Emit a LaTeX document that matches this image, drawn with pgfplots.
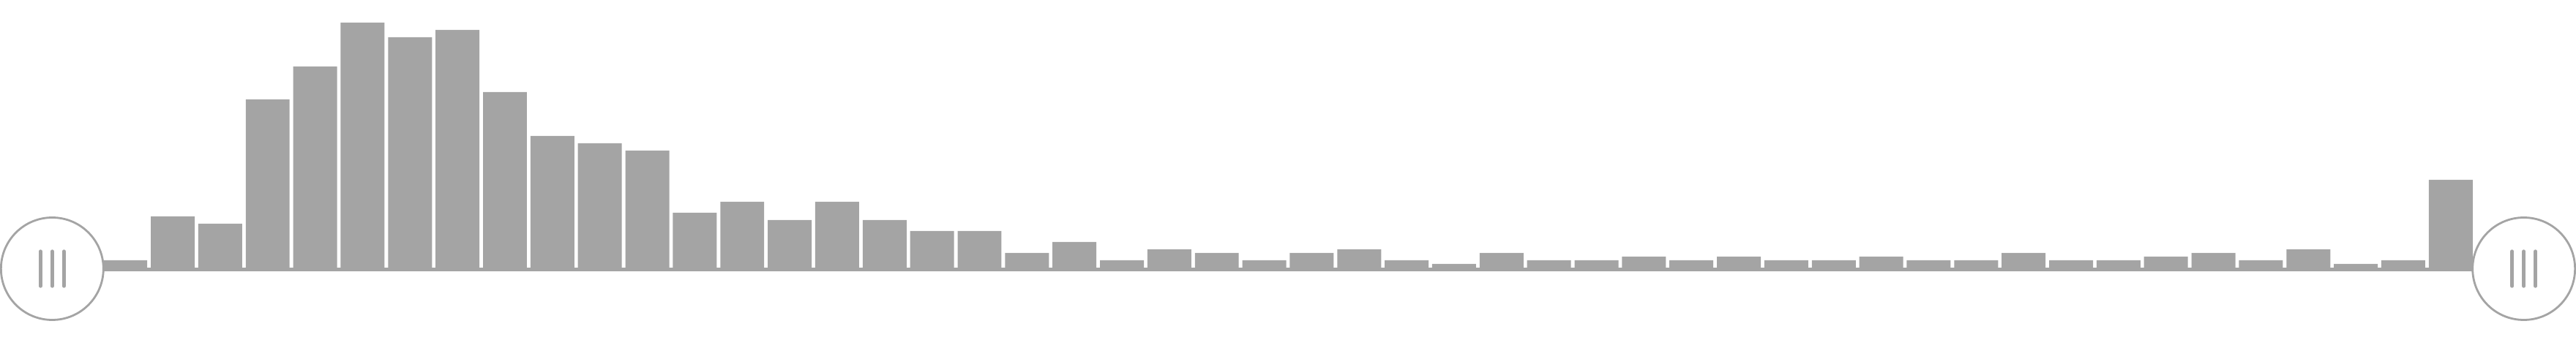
\documentclass[border=0pt]{standalone}
\usepackage{pgfplots}
\pgfplotsset{compat=1.18}
\definecolor{barc}{HTML}{A4A4A4}
\begin{document}
\begin{tikzpicture}
\begin{axis}[
  width=880pt, height=120pt, scale only axis,
  xmin=-1.640, xmax=52.640, ymin=-22.8, ymax=73.2,
  axis lines=none, clip=false,
]
\fill[barc] (axis cs:-0.54,0) rectangle (axis cs:51.54,-1);
\addplot[ybar, bar width=0.925, fill=barc, draw=none] coordinates {
(1,2) (2,14) (3,12) (4,46) (5,55) (6,67) (7,63) (8,65) (9,48) (10,36)
(11,34) (12,32) (13,15) (14,18) (15,13) (16,18) (17,13) (18,10) (19,10) (20,4)
(21,7) (22,2) (23,5) (24,4) (25,2) (26,4) (27,5) (28,2) (29,1) (30,4)
(31,2) (32,2) (33,3) (34,2) (35,3) (36,2) (37,2) (38,3) (39,2) (40,2)
(41,4) (42,2) (43,2) (44,3) (45,4) (46,2) (47,5) (48,1) (49,2) (50,24)
};
\coordinate (hl) at (axis cs:-0.54,-0.3);
\coordinate (hr) at (axis cs:51.54,-0.3);
\end{axis}
\draw[barc, line width=0.7pt, fill=white] (hl) circle[radius=17.5pt];
\draw[barc, line width=0.7pt, fill=white] (hr) circle[radius=17.5pt];
\foreach \p in {hl,hr} {
  \foreach \dx in {-4pt,0pt,4pt} {
    \draw[barc, line width=1.3pt, line cap=round]
      ([xshift=\dx,yshift=-5.9pt]\p) -- ([xshift=\dx,yshift=5.9pt]\p);
  }
}
\pgfresetboundingbox
\path (current axis.south west) rectangle (current axis.north east);
\end{tikzpicture}
\end{document}
